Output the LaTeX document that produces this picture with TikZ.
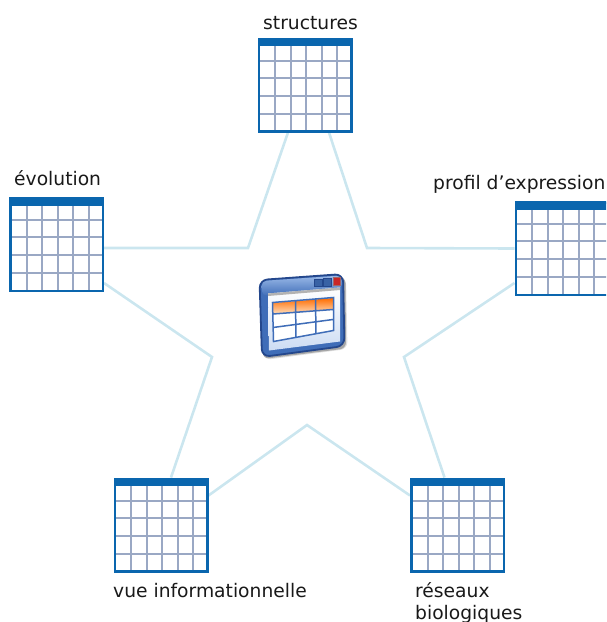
\documentclass[tikz,border=0pt]{standalone}
\usepackage{fontspec}
\setmainfont{DejaVu Sans}
\usetikzlibrary{calc,backgrounds}
\definecolor{tblue}{HTML}{0A66AE}
\definecolor{tgrid}{HTML}{9AA8C4}
\definecolor{starc}{HTML}{CBE6EF}
\definecolor{icond}{HTML}{24478C}
\definecolor{iconl}{HTML}{6F9BDD}
\definecolor{iconm}{HTML}{3F6DB8}
\tikzset{
 tablebox/.style={rectangle,minimum width=92.5pt,minimum height=92.5pt,inner sep=0pt,draw=tblue,line width=2.5pt,fill=white,
  path picture={
   \foreach \i in {16.5,32,47.5,63,78.5}{\draw[tgrid,line width=1.7pt] ([xshift=\i pt]path picture bounding box.south west) -- ([xshift=\i pt]path picture bounding box.north west);}
   \foreach \i in {17.5,35.5,53.5,70.5}{\draw[tgrid,line width=1.7pt] ([yshift=\i pt]path picture bounding box.south west) -- ([yshift=\i pt]path picture bounding box.south east);}
   \fill[tblue] (path picture bounding box.north west) rectangle ([yshift=-7.5pt]path picture bounding box.north east);
  }},
 star/.style={draw=starc,line width=2.6pt,line join=miter},
 lab/.style={inner sep=0pt,anchor=base west,font=\fontsize{18.7}{20}\selectfont,text=black!90},
}
\begin{document}
\begin{tikzpicture}[x=1pt,y=-1pt]
\useasboundingbox (0,0) rectangle (606,622);
\clip (0,0) rectangle (606,622);
\node[tablebox] (t1) at (305,85) {};
\node[tablebox] (t2) at (562,248.5) {};
\node[tablebox] (t3) at (457.5,525) {};
\node[tablebox] (t4) at (161,525) {};
\node[tablebox] (t5) at (56.5,244.5) {};
\coordinate (v1) at (367,248);
\coordinate (v2) at (404,357);
\coordinate (v3) at (307,425);
\coordinate (v4) at (212,357);
\coordinate (v5) at (248,248);
\begin{scope}[on background layer]
\draw[star] ([xshift=24pt]t1.south) -- (v1) -- (t2.west);
\draw[star] ([yshift=13pt]t2.west |- t2.south) -- (v2) -- ([xshift=-13pt]t3.north);
\draw[star] ([yshift=-18pt]t3.north west) -- (v3) -- ([yshift=-18pt]t4.north east);
\draw[star] ([xshift=10pt]t4.north) -- (v4) -- ([yshift=9pt]t5.south east);
\draw[star] ([yshift=44pt]t5.south east) -- (v5) -- ([xshift=-17pt]t1.south);
\end{scope}
\node[lab] (l1) at (263,29) {structures};
\node[lab] (l2) at (433,189) {profil d’expression};
\node[lab] (l3) at (415,597) {réseaux};
\node[lab] (l3b) at (415,619) {biologiques};
\node[lab] (l4) at (113,597) {vue informationnelle};
\node[lab] (l5) at (14,185) {évolution};
% icon
\fill[black!12,rounded corners=7pt] (263,285) -- (346,278) -- (347.5,349) -- (264,360) -- cycle;
\fill[black!35,rounded corners=6pt] (262,284) -- (345.5,277) -- (346,348.5) -- (263,359) -- cycle;
\shade[left color=iconm,right color=iconm,draw=icond,line width=1.8pt,rounded corners=8pt] (259.5,280) -- (343,274) -- (344.5,346) -- (262,357) -- cycle;
\shade[top color=iconl!70!white,bottom color=iconm,rounded corners=5pt] (261.5,281) -- (341.5,275.5) -- (341.5,290) -- (262,296) -- cycle;
\shade[top color=white,bottom color=white!65!iconl] (268,293.5) -- (340,287.5) -- (340,341.5) -- (269,350.5) -- cycle;
\fill[black!30] (268,293.5) -- (340,287.5) -- (340,290) -- (268,296) -- cycle;
\fill[white] (272.5,302.5) -- (333.5,297.5) -- (333.5,330.5) -- (273.5,341.5) -- cycle;
\shade[top color=orange!85!red,bottom color=orange!25!white] (273,303) -- (333,298) -- (333,309.5) -- (273,314) -- cycle;
\draw[iconm,line width=1.5pt] (272.5,302.5) -- (333.5,297.5) -- (333.5,330.5) -- (273.5,341.5) -- cycle (273,314) -- (333,309.5) (273,327.5) -- (333,319.5) (295.5,301) -- (296,337.5) (315.5,299) -- (316,334);
\fill[iconm!90!black,draw=icond,line width=.7pt] (314.5,279) rectangle (322,286.5);
\fill[iconm!90!black,draw=icond,line width=.7pt] (323.5,278.5) rectangle (331,286);
\fill[red!75!black!85!white,draw=red!40!black!60,line width=.6pt] (333,277.5) rectangle (340,285);
\end{tikzpicture}
\end{document}
